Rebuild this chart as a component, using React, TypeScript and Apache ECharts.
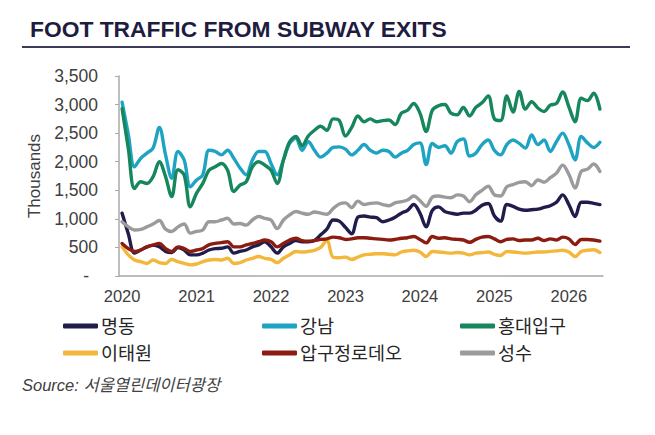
import React, { useEffect, useRef } from "react";
import * as echarts from "echarts";

// ---- data (monthly, Jan 2020 – Jun 2026), thousands of exits ----
const startYear = 2020;
const monthCount = 78;
const yearLabels = ["2020", "2021", "2022", "2023", "2024", "2025", "2026"];

const myeongdong = [
  1100, 740, 400, 455, 510, 540, 510, 430, 410, 500,
  455, 370, 370, 400, 455, 480, 485, 510, 400, 430,
  455, 510, 545, 600, 510, 400, 510, 570, 620, 600,
  600, 620, 720, 820, 980, 960, 850, 740, 1030, 1050, 1030,
  1020, 950, 980, 1030, 1100, 1150, 1250, 1100, 860, 1150,
  1210, 1130, 1100, 1080, 1100, 1100, 1150, 1240, 1270, 1050,
  960, 1250, 1220, 1170, 1150, 1160, 1170, 1200, 1230, 1290,
  1420, 1250, 1040, 1290, 1290, 1270, 1250,
];
const gangnam = [
  3040, 2480, 1910, 2060, 2150, 2240, 2600, 2120, 1710, 2180,
  2030, 1560, 1680, 1770, 2200, 2180, 2120, 2200, 2060, 1890,
  1770, 2030, 2180, 2180, 1970, 1770, 2030, 2320, 2410, 2200,
  2350, 2200, 2080, 2150, 2250, 2260, 2220, 2120, 2200, 2300, 2200,
  2150, 2200, 2180, 2080, 2150, 2200, 2300, 2330, 1950, 2320,
  2250, 2280, 2150, 2350, 2400, 2100, 2150, 2300, 2380, 2200,
  2120, 2300, 2380, 2320, 2240, 2470, 2300, 2380, 2180, 2350,
  2500, 2300, 2030, 2440, 2330, 2250, 2340,
];
const hongdae = [
  2930, 2230, 1530, 1650, 1620, 1740, 2000, 1740, 1390, 1860,
  1770, 1210, 1450, 1620, 1850, 1910, 1970, 1850, 1480, 1590,
  1650, 1910, 2000, 1940, 1850, 1620, 2030, 2350, 2440, 2280,
  2450, 2550, 2620, 2550, 2750, 2720, 2450, 2600, 2800, 2700, 2750,
  2700, 2720, 2730, 2650, 2850, 2900, 3020, 2850, 2530, 2900,
  2980, 3000, 2850, 2820, 2950, 2800, 2950, 3030, 3150, 2750,
  2720, 3150, 2870, 3230, 2920, 3050, 2940, 2880, 2990, 3020,
  3220, 2960, 2700, 3110, 3070, 3200, 2920,
];
const itaewon = [
  510, 370, 280, 250, 220, 280, 235, 220, 290, 250,
  220, 195, 210, 250, 280, 290, 280, 310, 220, 235,
  280, 310, 340, 310, 290, 235, 310, 370, 430, 420,
  430, 450, 500, 620, 330, 320, 330, 290, 330, 370, 380,
  390, 390, 380, 370, 420, 440, 450, 420, 340, 430,
  420, 410, 400, 410, 400, 370, 400, 410, 420, 380,
  360, 430, 420, 410, 400, 410, 420, 420, 430, 440,
  450, 420, 340, 430, 450, 460, 410,
];
const apgujeong = [
  570, 480, 430, 455, 510, 540, 570, 480, 430, 510,
  480, 430, 455, 480, 545, 570, 585, 600, 510, 510,
  545, 570, 600, 630, 600, 510, 570, 630, 660, 620,
  610, 620, 640, 650, 680, 670, 640, 650, 670, 670, 660,
  650, 640, 630, 640, 660, 670, 690, 640, 580, 690,
  660, 670, 650, 640, 630, 590, 640, 680, 690, 650,
  600, 640, 650, 620, 630, 630, 660, 620, 650, 630,
  680, 650, 550, 640, 640, 630, 610,
];
const seongsu = [
  950, 860, 805, 815, 860, 910, 970, 820, 780, 860,
  910, 750, 780, 805, 950, 950, 980, 1010, 910, 920,
  890, 980, 1040, 1010, 980, 830, 980, 1070, 1130, 1100,
  1080, 1120, 1100, 1080, 1180, 1260, 1280, 1200, 1310, 1250, 1270,
  1280, 1250, 1230, 1280, 1300, 1330, 1400, 1320, 1220, 1380,
  1400, 1380, 1370, 1420, 1400, 1300, 1420, 1500, 1570, 1420,
  1400, 1560, 1600, 1640, 1650, 1580, 1680, 1640, 1720, 1800,
  1940, 1780, 1540, 1830, 1870, 1960, 1830,
];

const seriesNames = ["명동", "강남", "홍대입구", "이태원", "압구정로데오", "성수"];
const seriesValues = [myeongdong, gangnam, hongdae, itaewon, apgujeong, seongsu];
const seriesColors = ["#201c4c", "#1ea3c3", "#16875c", "#f3b73b", "#8c1c10", "#9b9b9b"];

const FONT = "'Liberation Sans', Arial, 'Noto Sans CJK KR', sans-serif";

export default function App() {
  const ref = useRef<HTMLDivElement>(null);

  useEffect(() => {
    if (!ref.current) return;
    const chart = echarts.init(ref.current, undefined, { renderer: "svg" });

    const categories: string[] = [];
    for (let k = 0; k < monthCount; k++) {
      const y = startYear + Math.floor(k / 12);
      const m = (k % 12) + 1;
      categories.push(`${y}-${m < 10 ? "0" + m : m}`);
    }

    const axisColor = "#a8a8a8";
    const labelColor = "#404040";

    const legendItem = (names: string[], left: number) => ({
      orient: "vertical",
      left,
      top: 316,
      padding: 0,
      itemGap: 7,
      itemWidth: 35,
      itemHeight: 5,
      icon: "roundRect",
      data: names,
      textStyle: { fontFamily: FONT, fontSize: 18.5, color: "#262626", lineHeight: 20, padding: [0, 0, 0, -2] },
    });

    chart.setOption({
      animation: false,
      backgroundColor: "#ffffff",
      textStyle: { fontFamily: FONT },
      title: {
        text: "FOOT TRAFFIC FROM SUBWAY EXITS",
        left: 30,
        top: 18,
        padding: 0,
        textStyle: { fontFamily: FONT, fontSize: 22.8, fontWeight: "bold", color: "#1e1c40" },
      },
      grid: {
        left: 119,
        right: 52,
        top: 76,
        bottom: 159,
        containLabel: false,
        outerBoundsMode: "none",
      },
      legend: [
        legendItem([seriesNames[0], seriesNames[3]], 63),
        legendItem([seriesNames[1], seriesNames[4]], 262),
        legendItem([seriesNames[2], seriesNames[5]], 460),
      ],
      xAxis: {
        type: "category",
        data: categories,
        boundaryGap: true,
        axisLine: { lineStyle: { color: axisColor, width: 1.5 } },
        axisTick: { interval: 0, length: 4, lineStyle: { color: axisColor, width: 1 } },
        axisLabel: {
          interval: (index: number) => index % 12 === 0,
          formatter: (v: string) => {
            const y = v.slice(0, 4);
            return yearLabels.indexOf(y) >= 0 ? y : "";
          },
          fontFamily: FONT,
          fontSize: 16.5,
          color: labelColor,
          margin: 12,
        },
        splitLine: { show: false },
      },
      yAxis: {
        type: "value",
        min: 0,
        max: 3500,
        interval: 500,
        name: "Thousands",
        nameLocation: "middle",
        nameRotate: 90,
        nameGap: 69,
        nameTextStyle: { fontFamily: FONT, fontSize: 17, color: labelColor },
        axisLine: { show: true, lineStyle: { color: axisColor, width: 1.5 } },
        axisTick: { show: true, length: 4, lineStyle: { color: axisColor } },
        splitLine: { show: false },
        axisLabel: {
          fontFamily: FONT,
          fontSize: 17.5,
          color: labelColor,
          margin: 21,
          formatter: (v: number) => (v === 0 ? "{d|-}" : v.toLocaleString("en-US")),
          rich: { d: { fontFamily: FONT, fontSize: 17.5, color: labelColor, padding: [0, 9, 0, 0] } },
        },
      },
      series: seriesNames.map((name, i) => ({
        name,
        type: "line",
        data: seriesValues[i],
        smooth: 0.35,
        symbol: "none",
        showSymbol: false,
        color: seriesColors[i],
        itemStyle: { color: seriesColors[i] },
        lineStyle: { color: seriesColors[i], width: 3.4, cap: "round", join: "round" },
      })),
      graphic: [
        {
          type: "line",
          shape: { x1: 22, y1: 47, x2: 630, y2: 47 },
          style: { stroke: "#3c3c58", lineWidth: 2 },
        },
        {
          type: "text",
          left: 22,
          top: 377,
          style: {
            text: "Source: 서울열린데이터광장",
            font: `italic 16.5px ${FONT}`,
            fill: "#404040",
          },
        },
      ],
    });

    return () => chart.dispose();
  }, []);

  return (
    <div
      ref={ref}
      style={{ position: "fixed", left: 0, top: 0, width: 655, height: 435, background: "#fff" }}
    />
  );
}
